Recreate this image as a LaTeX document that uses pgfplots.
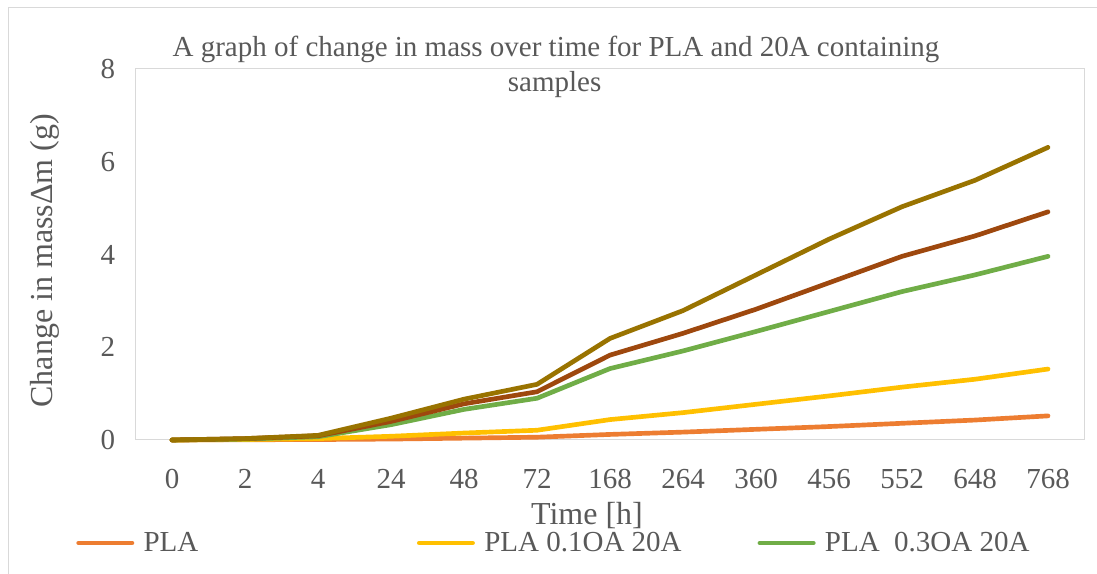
\documentclass[border=0pt]{standalone}
\usepackage{fontspec}
\setmainfont{Liberation Serif}
\usepackage{pgfplots}
\pgfplotsset{compat=1.18}
\definecolor{cOrange}{HTML}{ED7D31}
\definecolor{cYellow}{HTML}{FFC000}
\definecolor{cGreen}{HTML}{70AD47}
\definecolor{cBrown}{HTML}{9E480E}
\definecolor{cOlive}{HTML}{997300}
\definecolor{txt}{HTML}{595959}
\definecolor{bord}{HTML}{D9D9D9}
\newcommand{\bigf}{\fontsize{21.75}{26}\selectfont}
\newcommand{\axf}{\fontsize{24}{29}\selectfont}
\begin{document}
\begin{tikzpicture}
\useasboundingbox (0,0) rectangle (822.75pt,430.5pt);
\fill[white] (0,0) rectangle (822.75pt,430.5pt);
\draw[bord, line width=0.75pt] (6pt,0) -- (6pt,424.5pt) -- (822.75pt,424.5pt);
\begin{axis}[
  at={(101.625pt,100.5pt)}, anchor=south west,
  scale only axis, width=711.75pt, height=278.25pt,
  xmin=-0.5, xmax=12.5, ymin=0, ymax=8,
  xtick={0,...,12},
  xticklabels={0,2,4,24,48,72,168,264,360,456,552,648,768},
  ytick={0,2,4,6,8},
  major tick length=0pt,
  axis line style={bord, line width=0.75pt},
  tick label style={font=\bigf, text=txt},
  /pgf/number format/assume math mode=true,
  xticklabel style={inner sep=0pt, yshift=-22pt},
  yticklabel style={inner sep=0pt, xshift=-15pt},
  clip=false,
  legend columns=3,
  legend style={draw=none, fill=none, inner sep=0pt, outer sep=0pt,
    at={(-0.0624,-0.2776)}, anchor=west, font=\bigf, text=txt,
    nodes={inner sep=0pt, anchor=west},
    /tikz/every odd column/.append style={column sep=7pt}},
  legend image code/.code={\draw[#1, line width=3.5pt, line cap=round] (0pt,0pt) -- (40pt,0pt);},
  every axis plot/.append style={line width=3.5pt, line join=round, line cap=round},
]
\addplot[cOrange] coordinates {(0,0) (1,0.005) (2,0.01) (3,0.02) (4,0.04) (5,0.06) (6,0.12) (7,0.17) (8,0.23) (9,0.29) (10,0.36) (11,0.43) (12,0.52)};
\addlegendentry{\makebox[205pt][l]{PLA}}
\addplot[cYellow] coordinates {(0,0) (1,0.01) (2,0.03) (3,0.08) (4,0.15) (5,0.21) (6,0.44) (7,0.59) (8,0.77) (9,0.95) (10,1.14) (11,1.31) (12,1.53)};
\addlegendentry{\makebox[205pt][l]{PLA 0.1OA 20A}}
\addplot[cGreen] coordinates {(0,0) (1,0.02) (2,0.07) (3,0.33) (4,0.66) (5,0.90) (6,1.54) (7,1.92) (8,2.34) (9,2.77) (10,3.20) (11,3.56) (12,3.96)};
\addlegendentry{PLA\ \ 0.3OA 20A}
\addplot[cBrown, forget plot] coordinates {(0,0) (1,0.03) (2,0.09) (3,0.40) (4,0.78) (5,1.04) (6,1.83) (7,2.30) (8,2.82) (9,3.39) (10,3.96) (11,4.40) (12,4.92)};
\addplot[cOlive, forget plot] coordinates {(0,0) (1,0.03) (2,0.10) (3,0.47) (4,0.88) (5,1.20) (6,2.19) (7,2.79) (8,3.56) (9,4.33) (10,5.03) (11,5.60) (12,6.31)};
\end{axis}
\node[anchor=base, font=\bigf, text=txt, inner sep=0pt] at (417pt,387.75pt) {A graph of change in mass over time for PLA and 20A containing};
\node[anchor=base, font=\bigf, text=txt, inner sep=0pt] at (416pt,361.5pt) {samples};
\node[anchor=center, font=\axf, text=txt, inner sep=0pt] at (440.25pt,43.5pt) {Time [h]};
\node[anchor=center, rotate=90, font=\axf, text=txt, inner sep=0pt] at (33.75pt,235pt) {Change in massΔm (g)};
\end{tikzpicture}
\end{document}
